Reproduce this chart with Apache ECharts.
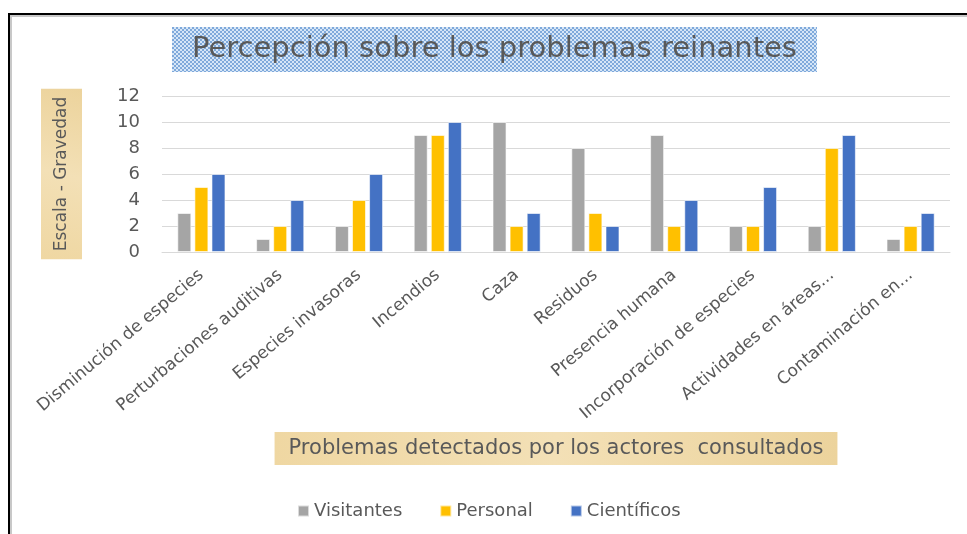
<!DOCTYPE html>
<html>
<head>
<meta charset="utf-8">
<script src="https://cdn.jsdelivr.net/npm/echarts@6/dist/echarts.min.js"></script>
<style>
    html, body { margin: 0; padding: 0; background: #fff; }
    #chart { width: 967px; height: 534px; }
</style>
</head>
<body>
<div id="chart"></div>
<script>
// datos
const categories = [
    'Disminución de especies', 'Perturbaciones auditivas', 'Especies invasoras',
    'Incendios', 'Caza', 'Residuos', 'Presencia humana',
    'Incorporación de especies', 'Actividades en áreas...', 'Contaminación en...'
];
const visitantes = [3, 1, 2, 9, 10, 8, 9, 2, 2, 1];
const personal = [5, 2, 4, 9, 2, 3, 2, 2, 8, 2];
const cientificos = [6, 4, 6, 10, 3, 2, 4, 5, 9, 3];
const yTicks = [0, 2, 4, 6, 8, 10, 12];

const FONT = 'DejaVu Sans';
const TEXT_COLOR = '#595959';

// fondo punteado azul del titulo
function makeDots() {
    let c = document.createElement('canvas');
    c.width = 4;
    c.height = 4;
    let ctx = c.getContext('2d');
    ctx.fillStyle = '#d6e6f7';
    ctx.fillRect(0, 0, 4, 4);
    ctx.fillStyle = '#7fa9db';
    ctx.fillRect(0, 0, 2, 2);
    ctx.fillRect(2, 2, 2, 2);
    return c;
}

const tan = {
    type: 'linear', x: 0, y: 0, x2: 1, y2: 1,
    colorStops: [
        {offset: 0, color: '#efd7a2'},
        {offset: 0.5, color: '#f3e0b6'},
        {offset: 1, color: '#ecd39c'}
    ]
};

let chart = echarts.init(document.getElementById('chart'));

let option = {
    backgroundColor: '#fff',
    animation: false,
    textStyle: {fontFamily: FONT},
    title: {
        text: 'Percepción sobre los problemas reinantes',
        left: 172,
        top: 27,
        padding: [8, 20, 8, 20],
        backgroundColor: {image: makeDots(), repeat: 'repeat'},
        textStyle: {
            fontFamily: FONT,
            fontWeight: 'normal',
            fontSize: 29,
            color: TEXT_COLOR
        }
    },
    legend: {
        left: 292,
        top: 497,
        itemWidth: 11,
        itemHeight: 11,
        itemGap: 37,
        icon: 'rect',
        textStyle: {fontSize: 18, color: TEXT_COLOR, fontFamily: FONT},
        data: ['Visitantes', 'Personal', 'Científicos']
    },
    grid: {
        left: 162,
        right: 17,
        top: 96,
        bottom: 282,
        containLabel: false
    },
    xAxis: {
        type: 'category',
        data: categories,
        axisTick: {show: false},
        axisLine: {lineStyle: {color: '#d9d9d9', width: 1}},
        axisLabel: {
            interval: 0,
            rotate: 40,
            margin: 21,
            fontSize: 17,
            color: TEXT_COLOR,
            fontFamily: FONT
        },
        name: 'Problemas detectados por los actores  consultados',
        nameLocation: 'middle',
        nameGap: 180,
        nameTextStyle: {
            fontSize: 21,
            color: TEXT_COLOR,
            fontFamily: FONT,
            backgroundColor: tan,
            padding: [6, 14, 6, 14]
        }
    },
    yAxis: {
        type: 'value',
        min: yTicks[0],
        max: yTicks[yTicks.length - 1],
        interval: yTicks[1] - yTicks[0],
        axisLine: {show: false},
        axisTick: {show: false},
        splitLine: {lineStyle: {color: '#d9d9d9', width: 1}},
        axisLabel: {
            margin: 22,
            fontSize: 18,
            color: TEXT_COLOR,
            fontFamily: FONT
        },
        name: 'Escala - Gravedad',
        nameLocation: 'middle',
        nameRotate: 90,
        nameGap: 80,
        nameTextStyle: {
            fontSize: 17,
            color: TEXT_COLOR,
            fontFamily: FONT,
            backgroundColor: tan,
            padding: [12, 8, 12, 8]
        }
    },
    series: [
        {name: 'Visitantes', data: visitantes, color: '#a5a5a5'},
        {name: 'Personal', data: personal, color: '#ffc000'},
        {name: 'Científicos', data: cientificos, color: '#4472c4'}
    ].map(s => ({
        name: s.name,
        type: 'bar',
        data: s.data,
        barWidth: 14,
        barGap: '22%',
        itemStyle: {color: s.color, borderColor: 'rgba(255,255,255,0.6)', borderWidth: 1}
    })),
    graphic: [
        // marco del grafico
        {
            type: 'polyline',
            shape: {points: [[11, 540], [11, 16], [970, 16]]},
            style: {stroke: '#c8c8c8', lineWidth: 2, fill: null}
        },
        {
            type: 'polyline',
            shape: {points: [[9, 540], [9, 14], [970, 14]]},
            style: {stroke: '#000', lineWidth: 2, fill: null}
        }
    ]
};

chart.setOption(option);
</script>
</body>
</html>
